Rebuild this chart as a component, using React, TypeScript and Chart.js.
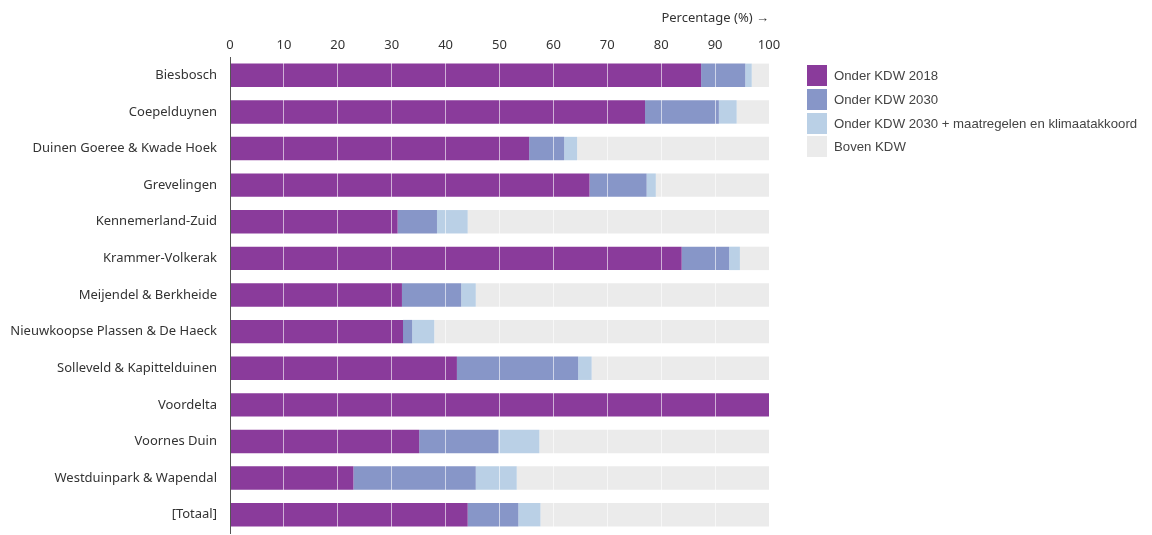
import React, { useEffect, useRef } from "react";
import { Chart, registerables } from "chart.js";

Chart.register(...registerables);

const categories = [
  "Biesbosch",
  "Coepelduynen",
  "Duinen Goeree & Kwade Hoek",
  "Grevelingen",
  "Kennemerland-Zuid",
  "Krammer-Volkerak",
  "Meijendel & Berkheide",
  "Nieuwkoopse Plassen & De Haeck",
  "Solleveld & Kapittelduinen",
  "Voordelta",
  "Voornes Duin",
  "Westduinpark & Wapendal",
  "[Totaal]",
];

const onderKdw2018 = [87.4, 77.0, 55.5, 66.7, 31.1, 83.8, 31.9, 32.1, 42.1, 100, 35.1, 22.9, 44.1];
const onderKdw2030 = [8.2, 13.7, 6.5, 10.6, 7.3, 8.8, 11.0, 1.7, 22.5, 0, 14.7, 22.7, 9.4];
const onderKdw2030Maatregelen = [1.2, 3.3, 2.4, 1.7, 5.7, 2.0, 2.7, 4.1, 2.5, 0, 7.6, 7.6, 4.1];
const bovenKdw = [3.2, 6.0, 35.6, 21.0, 55.9, 5.4, 54.4, 62.1, 32.9, 0, 42.6, 46.8, 42.4];

const seriesLabels = [
  "Onder KDW 2018",
  "Onder KDW 2030",
  "Onder KDW 2030 + maatregelen en klimaatakkoord",
  "Boven KDW",
];
const seriesColors = ["#8a3b9b", "#8796c8", "#bad0e6", "#ebebeb"];
const xTicks = [0, 10, 20, 30, 40, 50, 60, 70, 80, 90, 100];

export default function App() {
  const canvasRef = useRef<HTMLCanvasElement | null>(null);

  useEffect(() => {
    document.body.style.margin = "0";
    const canvas = canvasRef.current;
    if (!canvas) return;
    const seriesData = [onderKdw2018, onderKdw2030, onderKdw2030Maatregelen, bovenKdw];
    const chart = new Chart(canvas, {
      type: "bar",
      data: {
        labels: categories,
        datasets: seriesData.map((d, i) => ({
          label: seriesLabels[i],
          data: d,
          backgroundColor: seriesColors[i],
          borderWidth: 0,
          barPercentage: 0.64,
          categoryPercentage: 1,
        })),
      },
      options: {
        indexAxis: "y",
        responsive: false,
        animation: false,
        maintainAspectRatio: false,
        layout: { padding: { left: 0, right: 383, top: 0, bottom: 2 } },
        plugins: {
          legend: { display: false },
          tooltip: { enabled: false },
        },
        scales: {
          x: {
            position: "top",
            stacked: true,
            min: 0,
            max: 100,
            afterBuildTicks: (scale: any) => {
              scale.ticks = xTicks.map((v) => ({ value: v }));
            },
            afterFit: (scale: any) => {
              scale.height = 57;
              scale.paddingTop = 0;
              scale.paddingBottom = 0;
            },
            grid: {
              z: 1,
              drawTicks: false,
              color: (ctx: any) =>
                ctx.tick && ctx.tick.value === 0 ? "rgba(0,0,0,0)" : "rgba(255,255,255,0.6)",
              lineWidth: 1,
            },
            border: { display: false },
            ticks: {
              padding: 4,
              color: "#333",
              font: { family: "'Noto Sans', sans-serif", size: 13 },
            },
            title: {
              display: true,
              text: "Percentage (%) →",
              align: "end",
              color: "#333",
              font: { family: "'Noto Sans', sans-serif", size: 13 },
              padding: { top: 10, bottom: 4 },
            },
          },
          y: {
            stacked: true,
            afterFit: (scale: any) => {
              scale.width = 230;
              scale.paddingTop = 0;
              scale.paddingBottom = 0;
            },
            grid: { display: false, drawTicks: false },
            border: { display: true, color: "#555", width: 1, z: 2 },
            ticks: {
              padding: 13,
              color: "#333",
              font: { family: "'Noto Sans', sans-serif", size: 13 },
            },
          },
        },
      },
    });
    return () => chart.destroy();
  }, []);

  return (
    <div style={{ position: "fixed", left: 0, top: 0, width: 1152, height: 535, background: "#fff" }}>
      <canvas ref={canvasRef} width={1152} height={535} style={{ width: 1152, height: 535 }} />
      <div
        style={{
          position: "absolute",
          left: 807,
          top: 64,
          fontFamily: "'Liberation Sans', Arial, sans-serif",
          fontSize: 13.2,
          color: "#444",
        }}
      >
        {seriesLabels.map((l, i) => (
          <div key={l} style={{ display: "flex", alignItems: "center", height: 23.7 }}>
            <div style={{ width: 20, height: 21, background: seriesColors[i], marginRight: 7 }} />
            <span>{l}</span>
          </div>
        ))}
      </div>
    </div>
  );
}
